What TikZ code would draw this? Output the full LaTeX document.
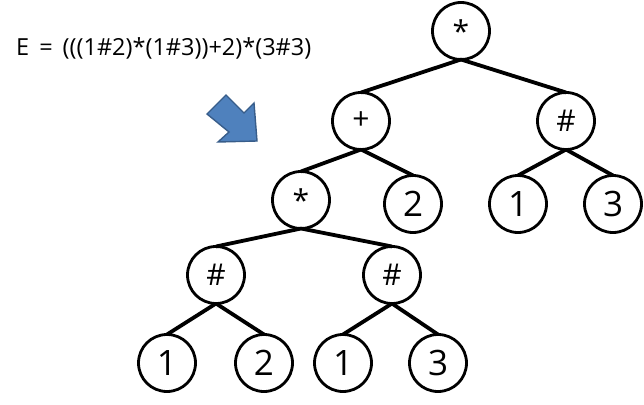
\documentclass[tikz,border=0pt]{standalone}
\usepackage{fontspec}
\setmainfont{Open Sans}
\begin{document}
\begin{tikzpicture}[x=1pt,y=-1pt,
  tnode/.style={circle,draw=black,line width=2.8pt,minimum size=57pt,inner sep=0pt,outer sep=0pt,font=\fontsize{35}{35}\selectfont},
  opnode/.style={tnode,font=\fontsize{30}{30}\selectfont},
  edge/.style={line width=3.8pt,black}]
\useasboundingbox (0,0) rectangle (644,404);
\node[anchor=west,inner sep=0pt,font=\fontsize{23.5}{23.5}\selectfont] (expr) at (16,48) {E\ \,=\ \,(((1\#2)*(1\#3))+2)*(3\#3)};
\fill[fill={rgb,255:red,79;green,129;blue,189},draw={rgb,255:red,56;green,93;blue,138},line width=1.4pt,line join=miter]
  (207,114) -- (226,95) -- (244,113) -- (254,103) -- (257,141) -- (218,142) -- (229,132) -- cycle;
\node[opnode] (root) at (461,31) {*};
\node[opnode] (plus) at (361,121) {+};
\node[opnode] (hashR) at (566,121) {\#};
\node[opnode] (mul) at (301,200) {*};
\node[tnode] (twoA) at (413,204) {2};
\node[tnode] (oneA) at (518,204) {1};
\node[tnode] (threeA) at (613,204) {3};
\node[opnode] (hashL) at (216,275) {\#};
\node[opnode] (hashM) at (392,275) {\#};
\node[tnode] (oneB) at (167,363) {1};
\node[tnode] (twoB) at (264,363) {2};
\node[tnode] (oneC) at (343,363) {1};
\node[tnode] (threeC) at (438,363) {3};
\draw[edge] (root.south) -- (plus.north);
\draw[edge] (root.south) -- (hashR.north);
\draw[edge] (plus.south) -- (mul.north);
\draw[edge] (plus.south) -- (twoA.north);
\draw[edge] (hashR.south) -- (oneA.north);
\draw[edge] (hashR.south) -- (threeA.north);
\draw[edge] (mul.south) -- (hashL.north);
\draw[edge] (mul.south) -- (hashM.north);
\draw[edge] (hashL.south) -- (oneB.north);
\draw[edge] (hashL.south) -- (twoB.north);
\draw[edge] (hashM.south) -- (oneC.north);
\draw[edge] (hashM.south) -- (threeC.north);
\end{tikzpicture}
\end{document}
